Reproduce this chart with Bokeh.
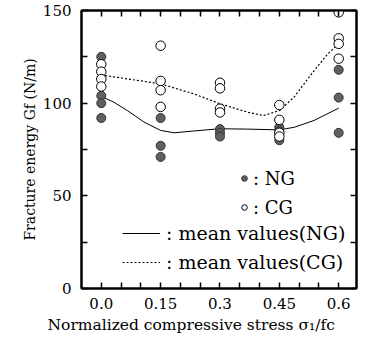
from bokeh.plotting import figure
from bokeh.models import (LinearAxis, FixedTicker, Range1d, Legend, LegendItem, Title)
from bokeh.embed import file_html
from bokeh.resources import INLINE

# ---- data ----
stress_levels = [0.0, 0.15, 0.3, 0.45, 0.6]
tick_labels = ["0.0", "0.15", "0.3", "0.45", "0.6"]

ng_x = [0.0, 0.0, 0.0, 0.0,
        0.15, 0.15, 0.15,
        0.3, 0.3, 0.3,
        0.45, 0.45, 0.45,
        0.6, 0.6, 0.6]
ng_y = [125, 104, 100, 92,
        92, 77, 71,
        86, 84, 82,
        87, 85, 80,
        118, 103, 84]

cg_x = [0.0, 0.0, 0.0, 0.0,
        0.15, 0.15, 0.15, 0.15,
        0.3, 0.3, 0.3, 0.3,
        0.45, 0.45, 0.45, 0.45,
        0.6, 0.6, 0.6, 0.6]
cg_y = [121, 117, 113, 109,
        131, 112, 107, 98,
        111, 108, 97, 95,
        99, 91, 84, 82,
        149, 135, 132, 124]

ng_mean_x = [0.0, 0.032, 0.066, 0.108, 0.15, 0.184, 0.234, 0.3, 0.37, 0.45, 0.488, 0.538, 0.6]
ng_mean_y = [103.6, 100.5, 96.0, 89.8, 85.3, 84.0, 85.0, 86.2, 86.0, 85.6, 87.0, 90.7, 97.3]

cg_mean_x = [0.0, 0.066, 0.15, 0.234, 0.3, 0.37, 0.41, 0.45, 0.487, 0.538, 0.572, 0.6]
cg_mean_y = [115.2, 113.1, 110.4, 105.0, 99.7, 95.1, 93.3, 96.0, 103.2, 117.6, 126.5, 132.0]

y_major = [0, 50, 100, 150]
y_minor = [25, 75, 125]
x_minor = [0.05, 0.1, 0.2, 0.25, 0.35, 0.4, 0.5, 0.55]

x_title = "Normalized compressive stress  σ₁/fc"
y_title = "Fracture energy Gf (N/m)"

FONT = "DejaVu Serif"

p = figure(width=366, height=340, output_backend="svg", toolbar_location=None,
           x_range=Range1d(-0.05, 0.645), y_range=Range1d(0, 150),
           x_axis_type=None, y_axis_type=None,
           min_border_left=81, min_border_right=10, min_border_top=10, min_border_bottom=52)
p.background_fill_color = "white"
p.border_fill_color = "white"
p.grid.visible = False
p.outline_line_color = "black"
p.outline_line_width = 2


def style_axis(ax, show_labels):
    ax.axis_line_color = "black"
    ax.axis_line_width = 2
    ax.major_tick_in = 6
    ax.major_tick_out = 0
    ax.minor_tick_in = 6
    ax.minor_tick_out = 0
    ax.major_tick_line_color = "black"
    ax.minor_tick_line_color = "black"
    ax.major_tick_line_width = 1.5
    ax.minor_tick_line_width = 1.5
    ax.major_label_text_font = FONT
    ax.major_label_text_font_size = "15px"
    ax.major_label_text_color = "black"
    if not show_labels:
        ax.major_label_standoff = 0


xt = FixedTicker(ticks=stress_levels, minor_ticks=x_minor)
yt = FixedTicker(ticks=y_major, minor_ticks=y_minor)

xb = LinearAxis(ticker=xt)
style_axis(xb, True)
xb.major_label_overrides = {v: t for v, t in zip(stress_levels, tick_labels)}
xb.major_label_standoff = 9
p.add_layout(xb, "below")

yl = LinearAxis(ticker=yt)
style_axis(yl, True)
yl.major_label_standoff = 10
p.add_layout(yl, "left")

xa = LinearAxis(ticker=xt)
style_axis(xa, False)
xa.major_label_overrides = {v: "" for v in stress_levels}
p.add_layout(xa, "above")

yr = LinearAxis(ticker=yt)
style_axis(yr, False)
yr.major_label_overrides = {v: "" for v in y_major}
p.add_layout(yr, "right")

tx = Title(text=x_title, align="left", offset=-34, text_font=FONT,
           text_font_size="15.5px", text_font_style="normal", text_color="black",
           standoff=4)
p.add_layout(tx, "below")
ty = Title(text=y_title, align="center", offset=24, text_font=FONT,
           text_font_size="14px", text_font_style="normal", text_color="black",
           standoff=4)
p.add_layout(ty, "left")

# mean curves
l_ng = p.line(ng_mean_x, ng_mean_y, line_color="black", line_width=1)
l_cg = p.line(cg_mean_x, cg_mean_y, line_color="black", line_width=1.2, line_dash="2 2")

# points
r_ng = p.scatter(ng_x, ng_y, marker="circle", size=9, fill_color="#606060",
                 line_color="#333333", line_width=1)
r_cg = p.scatter(cg_x, cg_y, marker="circle", size=9.5, fill_color="white",
                 line_color="black", line_width=1)

leg1 = Legend(items=[LegendItem(label=": NG", renderers=[r_ng]),
                     LegendItem(label=": CG", renderers=[r_cg])],
              location=(156, 70), orientation="vertical")
leg2 = Legend(items=[LegendItem(label=": mean values(NG)", renderers=[l_ng]),
                     LegendItem(label=": mean values(CG)", renderers=[l_cg])],
              location=(41, 15), orientation="vertical")
for lg, gw, so, fs in ((leg1, 14, 2, "18px"), (leg2, 38, 6, "19px")):
    lg.label_text_font = FONT
    lg.label_text_font_size = fs
    lg.label_text_color = "black"
    lg.glyph_width = gw
    lg.glyph_height = 22
    lg.label_height = 22
    lg.label_standoff = so
    lg.spacing = 7
    lg.padding = 0
    lg.margin = 0
    lg.border_line_color = None
    lg.background_fill_alpha = 0
    p.add_layout(lg, "center")

open("out.html", "w").write(file_html(p, INLINE))
